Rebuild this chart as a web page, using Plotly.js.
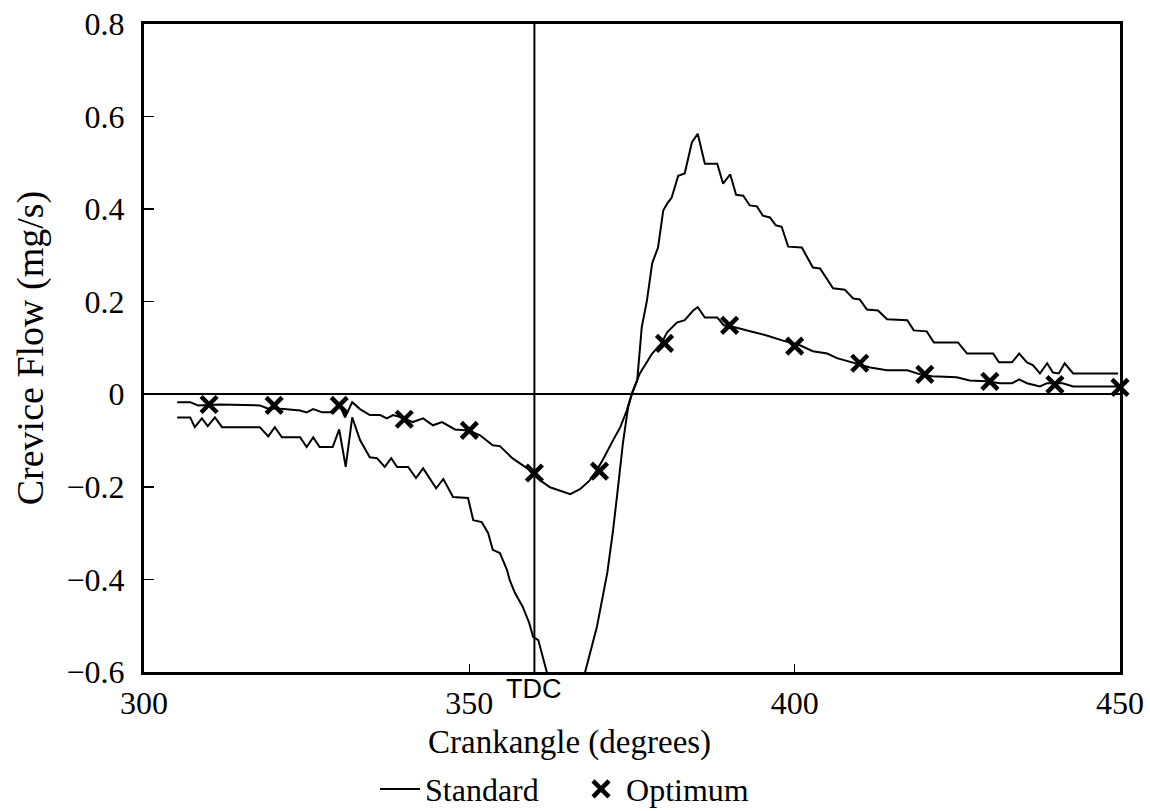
<!DOCTYPE html>
<html>
<head>
<meta charset="utf-8">
<script src="https://cdn.plot.ly/plotly-3.0.1.min.js"></script>
<style>html,body{margin:0;padding:0;background:#fff;}#chart{width:1150px;height:811px;}</style>
</head>
<body>
<div id="chart"></div>
<script>
// Standard: crank angle (deg) and crevice flow (mg/s)
const standardAngle = [305.1,307.1,307.8,308.9,309.8,310.9,312.0,317.8,319.1,320.1,321.2,324.0,325.0,326.0,327.0,329.0,330.0,331.0,332.0,333.2,334.7,335.8,337.0,338.0,338.9,340.6,341.8,342.9,344.9,346.0,347.5,349.8,350.6,351.9,352.9,353.6,354.7,355.8,356.2,357.0,358.2,359.2,359.8,360.6,361.9,363.5,365.5,367.0,367.8,369.6,371.2,372.1,372.8,373.6,374.4,375.0,375.8,376.5,377.3,378.1,379.0,379.8,380.4,381.1,382.1,383.1,384.2,385.1,386.2,388.1,389.0,390.1,391.0,392.1,393.1,394.2,395.1,396.2,397.1,398.0,399.0,401.1,402.8,403.9,405.9,407.7,409.0,410.0,411.1,412.8,414.2,417.3,418.3,420.3,421.4,425.1,426.5,430.5,431.4,433.4,434.5,435.7,436.6,437.7,438.8,439.7,440.6,441.5,442.8,449.7];
const standardFlow = [-0.050,-0.050,-0.071,-0.052,-0.069,-0.050,-0.071,-0.071,-0.091,-0.071,-0.093,-0.093,-0.114,-0.093,-0.114,-0.114,-0.076,-0.157,-0.050,-0.099,-0.136,-0.138,-0.157,-0.138,-0.157,-0.157,-0.181,-0.160,-0.203,-0.183,-0.222,-0.224,-0.272,-0.276,-0.300,-0.336,-0.343,-0.380,-0.401,-0.429,-0.459,-0.494,-0.524,-0.531,-0.600,-0.720,-0.760,-0.700,-0.600,-0.503,-0.386,-0.293,-0.207,-0.106,-0.028,0.002,0.030,0.145,0.203,0.283,0.317,0.397,0.412,0.425,0.472,0.477,0.544,0.563,0.498,0.498,0.455,0.475,0.431,0.429,0.408,0.406,0.386,0.382,0.365,0.362,0.319,0.317,0.274,0.272,0.229,0.226,0.207,0.205,0.183,0.181,0.162,0.160,0.138,0.136,0.112,0.112,0.088,0.088,0.069,0.069,0.088,0.069,0.063,0.045,0.067,0.047,0.045,0.067,0.045,0.045];

// Optimum: continuous curve
const optimumAngle = [305.1,307.1,308.3,311.7,317.8,318.9,321.5,324.0,325.0,326.0,327.4,329.0,330.1,330.9,332.0,333.2,334.7,336.3,337.3,338.3,340.0,341.3,342.9,344.4,345.8,347.8,349.8,351.6,353.6,354.7,356.6,358.9,359.6,360.9,362.4,363.9,365.5,367.0,368.5,369.5,370.5,372.1,373.2,374.2,375.0,376.2,378.1,379.5,380.4,381.9,383.1,384.4,385.1,386.2,388.1,389.1,390.8,392.7,395.7,398.2,400.8,402.8,405.0,406.5,409.1,411.6,414.2,417.3,419.3,421.1,424.9,426.9,429.4,431.6,433.4,434.5,435.7,437.7,438.8,441.2,442.8,449.7];
const optimumFlow = [-0.017,-0.017,-0.024,-0.022,-0.024,-0.030,-0.032,-0.035,-0.039,-0.032,-0.039,-0.039,-0.024,-0.050,-0.017,-0.032,-0.045,-0.045,-0.052,-0.045,-0.052,-0.060,-0.052,-0.067,-0.060,-0.076,-0.078,-0.088,-0.110,-0.112,-0.138,-0.160,-0.170,-0.186,-0.201,-0.209,-0.216,-0.205,-0.186,-0.166,-0.142,-0.099,-0.071,-0.035,0.002,0.045,0.088,0.110,0.134,0.155,0.160,0.181,0.188,0.166,0.166,0.149,0.145,0.138,0.127,0.116,0.106,0.093,0.088,0.078,0.067,0.058,0.052,0.052,0.043,0.039,0.037,0.030,0.028,0.024,0.024,0.032,0.024,0.017,0.024,0.024,0.017,0.017];

// Optimum: marked points every 10 degrees
const markerAngle = [310,320,330,340,350,360,370,380,390,400,410,420,430,440,450];
const markerFlow = [-0.022,-0.024,-0.024,-0.054,-0.078,-0.170,-0.166,0.110,0.149,0.104,0.067,0.043,0.028,0.021,0.015];

const xTicks = [300,350,400,450];
const yTicks = [-0.6,-0.4,-0.2,0,0.2,0.4,0.6,0.8];
const yTickText = ['\u22120.6','\u22120.4','\u22120.2','0','0.2','0.4','0.6','0.8'];
const tdcAngle = 360;
const tdcLabel = 'TDC';
const xTitle = 'Crankangle (degrees)';
const yTitle = 'Crevice Flow (mg/s)';

const serif = 'Liberation Serif';
const sans = 'Liberation Sans';

const traces = [
  {x: standardAngle, y: standardFlow, type: 'scatter', mode: 'lines', name: 'Standard',
   line: {color: '#000', width: 2}, showlegend: true},
  {x: optimumAngle, y: optimumFlow, type: 'scatter', mode: 'lines', name: 'Optimum curve',
   line: {color: '#000', width: 2}, showlegend: false},
  {x: markerAngle, y: markerFlow, type: 'scatter', mode: 'markers', name: 'Optimum',
   marker: {symbol: 'x-thin', size: 16, color: '#000', line: {color: '#000', width: 4.5}}, cliponaxis: false}
];

const layout = {
  width: 1150, height: 811,
  margin: {l: 144, r: 30, t: 24, b: 139},
  paper_bgcolor: '#fff', plot_bgcolor: '#fff',
  font: {family: serif, size: 32, color: '#000'},
  showlegend: true,
  legend: {orientation: 'h', xref: 'paper', x: 0.2367, xanchor: 'left',
           yref: 'container', y: 0.027, yanchor: 'middle',
           font: {family: serif, size: 32, color: '#000'}, itemwidth: 40, entrywidth: 146,
           tracegroupgap: 0, bgcolor: 'rgba(0,0,0,0)'},
  xaxis: {
    range: [300, 450], tickvals: xTicks, ticktext: xTicks.map(String),
    ticks: 'inside', ticklen: 8, tickwidth: 1.5, tickcolor: '#000',
    showline: true, linecolor: '#000', linewidth: 3, mirror: true,
    showgrid: false, zeroline: false, ticklabelstandoff: 1, automargin: false,
    tickfont: {family: serif, size: 32, color: '#000'}
  },
  yaxis: {
    range: [-0.6, 0.8], tickvals: yTicks, ticktext: yTickText,
    ticks: 'inside', ticklen: 10, tickwidth: 1.5, tickcolor: '#000',
    showline: true, linecolor: '#000', linewidth: 3, mirror: true,
    showgrid: false, zeroline: true, zerolinecolor: '#000', zerolinewidth: 2,
    ticklabelstandoff: 10, automargin: false,
    tickfont: {family: serif, size: 32, color: '#000'},
    title: {text: yTitle, font: {family: serif, size: 38, color: '#000'}, standoff: 12}
  },
  shapes: [
    {type: 'line', xref: 'x', yref: 'paper', x0: tdcAngle, x1: tdcAngle, y0: 0, y1: 1,
     line: {color: '#000', width: 2}}
  ],
  annotations: [
    {x: tdcAngle, xref: 'x', y: 0, yref: 'paper', yanchor: 'top', yshift: 0, showarrow: false,
     text: tdcLabel, font: {family: sans, size: 27, color: '#000'}},
    {x: 0.4355, xref: 'paper', y: -0.1085, yref: 'paper', yanchor: 'middle', xanchor: 'center', showarrow: false,
     text: xTitle, font: {family: serif, size: 33, color: '#000'}}
  ]
};

Plotly.newPlot('chart', traces, layout, {displayModeBar: false, staticPlot: true});
</script>
</body>
</html>
